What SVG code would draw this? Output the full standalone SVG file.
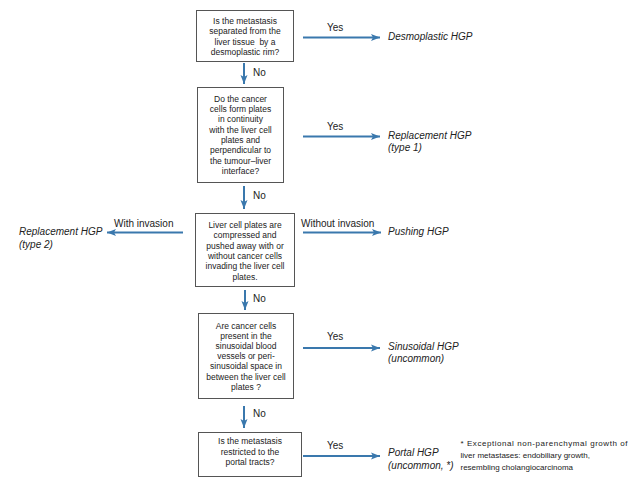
<svg xmlns="http://www.w3.org/2000/svg" width="640" height="484" viewBox="0 0 640 484">
<defs>
<marker id="ah" markerUnits="userSpaceOnUse" markerWidth="10" markerHeight="8" refX="9" refY="4" orient="auto">
<path d="M0,0.5 L9,4 L0,7.5 L2,4 z" fill="#3a78ad"/>
</marker>
<style>
.box{fill:#fff;stroke:#555;stroke-width:1}
.bt{font-family:"Liberation Sans",Arial,sans-serif;font-size:8.5px;fill:#222;text-anchor:middle}
.lb{font-family:"Liberation Sans",Arial,sans-serif;font-size:10px;fill:#222}
.out{font-family:"Liberation Sans",Arial,sans-serif;font-size:10px;fill:#222;font-style:italic}
.fn{font-family:"Liberation Sans",Arial,sans-serif;font-size:8px;fill:#222}
.ar{stroke:#3a78ad;stroke-width:2;fill:none;marker-end:url(#ah)}
</style>
</defs>
<rect width="640" height="484" fill="#fff"/>

<g id="q1">
<rect class="box" x="196.5" y="10.5" width="97" height="51"/>
<text class="bt" x="245" y="23.7">Is the metastasis</text>
<text class="bt" x="245" y="34">separated from the</text>
<text class="bt" x="245" y="44.5" xml:space="preserve">liver tissue  by a</text>
<text class="bt" x="245" y="54.7">desmoplastic rim?</text>
</g>

<g id="q2">
<rect class="box" x="197.5" y="87.5" width="86" height="95"/>
<text class="bt" x="240.5" y="101.7">Do the cancer</text>
<text class="bt" x="240.5" y="112">cells form plates</text>
<text class="bt" x="240.5" y="122.3">in continuity</text>
<text class="bt" x="240.5" y="132.6">with the liver cell</text>
<text class="bt" x="240.5" y="143">plates and</text>
<text class="bt" x="240.5" y="153.3">perpendicular to</text>
<text class="bt" x="240.5" y="163.6">the tumour–liver</text>
<text class="bt" x="240.5" y="174">interface?</text>
</g>

<g id="q3">
<rect class="box" x="195.5" y="213.5" width="99" height="73"/>
<text class="bt" x="245" y="228">Liver cell plates are</text>
<text class="bt" x="245" y="238.3">compressed and</text>
<text class="bt" x="245" y="248.6">pushed away with or</text>
<text class="bt" x="245" y="258.9">without cancer cells</text>
<text class="bt" x="245" y="269.2">invading the liver cell</text>
<text class="bt" x="245" y="279.5">plates.</text>
</g>

<g id="q4">
<rect class="box" x="198.5" y="313.5" width="95" height="85"/>
<text class="bt" x="246" y="329">Are cancer cells</text>
<text class="bt" x="246" y="339.1">present in the</text>
<text class="bt" x="246" y="349.2">sinusoidal blood</text>
<text class="bt" x="246" y="359.3">vessels or peri-</text>
<text class="bt" x="246" y="369.4">sinusoidal space in</text>
<text class="bt" x="246" y="379.5">between the liver cell</text>
<text class="bt" x="246" y="389.6">plates ?</text>
</g>

<g id="q5">
<rect class="box" x="198.5" y="432.5" width="103" height="44"/>
<text class="bt" x="250" y="444">Is the metastasis</text>
<text class="bt" x="250" y="454.5">restricted to the</text>
<text class="bt" x="250" y="465">portal tracts?</text>
</g>

<g id="o1"><text class="out" x="388" y="39.5">Desmoplastic HGP</text></g>
<g id="o2"><text class="out" x="388" y="138.5">Replacement HGP</text><text class="out" x="388" y="151">(type 1)</text></g>
<g id="o3"><text class="out" x="19" y="235">Replacement HGP</text><text class="out" x="19" y="247.5">(type 2)</text></g>
<g id="o4"><text class="out" x="388" y="235">Pushing HGP</text></g>
<g id="o5"><text class="out" x="388" y="349.5">Sinusoidal HGP</text><text class="out" x="388" y="362">(uncommon)</text></g>
<g id="o6"><text class="out" x="388" y="456">Portal HGP</text><text class="out" x="388" y="468.5">(uncommon, *)</text></g>

<g id="note">
<text class="fn" x="460.5" y="446.3" textLength="167" lengthAdjust="spacing">* Exceptional non-parenchymal growth of</text>
<text class="fn" x="460.5" y="458">liver metastases: endobiliary growth,</text>
<text class="fn" x="460.5" y="469.5">resembling cholangiocarcinoma</text>
</g>

<g id="connectors">
<line class="ar" x1="303" y1="37.5" x2="380" y2="37.5"/>
<text class="lb" x="327" y="30.5">Yes</text>
<line class="ar" x1="244" y1="63" x2="244" y2="84"/>
<text class="lb" x="253" y="76">No</text>

<line class="ar" x1="303" y1="136.5" x2="380" y2="136.5"/>
<text class="lb" x="327" y="130">Yes</text>
<line class="ar" x1="244" y1="186" x2="244" y2="209"/>
<text class="lb" x="253" y="198.5">No</text>

<line class="ar" x1="183" y1="232.5" x2="107" y2="232.5"/>
<text class="lb" x="114" y="226.5">With invasion</text>
<line class="ar" x1="303" y1="232.5" x2="381" y2="232.5"/>
<text class="lb" x="301" y="226.5">Without invasion</text>
<line class="ar" x1="245" y1="290" x2="245" y2="310"/>
<text class="lb" x="253" y="301.5">No</text>

<line class="ar" x1="303" y1="348" x2="380" y2="348"/>
<text class="lb" x="327" y="340">Yes</text>
<line class="ar" x1="244" y1="406" x2="244" y2="428"/>
<text class="lb" x="253" y="416.5">No</text>

<line class="ar" x1="303" y1="456" x2="380" y2="456"/>
<text class="lb" x="327" y="448.5">Yes</text>
</g>
</svg>
